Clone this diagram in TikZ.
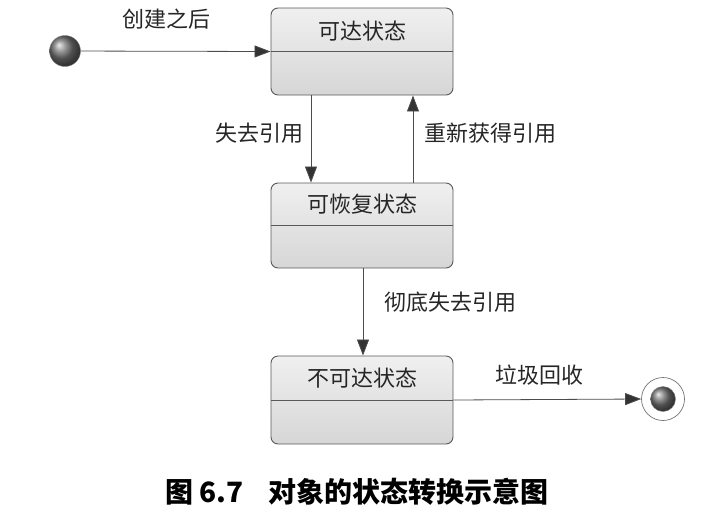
\documentclass[tikz,border=0pt]{standalone}
\usepackage{fontspec}
\newfontfamily\cjk{Noto Sans CJK SC}
\usetikzlibrary{arrows.meta,calc}
\begin{document}
\begin{tikzpicture}[x=1pt,y=-1pt,
  state/.style={draw=black!65,line width=0.9pt,rounded corners=7pt,
    top color=black!6,bottom color=black!16,minimum width=182pt,minimum height=87pt,inner sep=0pt},
  lbl/.style={font=\cjk\fontsize{22}{24}\selectfont,text=black!85,inner sep=0pt},
  arr/.style={draw=black!70,line width=0.8pt,-{Triangle[length=16pt,width=12pt,fill=black!80]}}]
\useasboundingbox (0,0) rectangle (715,512);
% initial
\node[circle,minimum size=31pt,inner sep=0pt,ball color=black!55,draw=black!50] (init) at (65,51) {};
% states
\node[state] (s1) at (362,51.5) {};
\draw[draw=black!65,line width=0.9pt] (s1.west) -- (s1.east);
\node[lbl] (t1) at (362,31) {可达状态};
\node[state,minimum height=85pt] (s2) at (362,225.5) {};
\draw[draw=black!65,line width=0.9pt] (s2.west) -- (s2.east);
\node[lbl] (t2) at (362,204) {可恢复状态};
\node[state,minimum height=88pt] (s3) at (362,400) {};
\draw[draw=black!65,line width=0.9pt] (s3.west) -- (s3.east);
\node[lbl] (t3) at (362,378) {不可达状态};
% final
\node[circle,draw=black!55,line width=0.7pt,fill=white,minimum size=43pt,inner sep=0pt] (fin) at (663,399) {};
\node[circle,minimum size=25pt,inner sep=0pt,ball color=black!55,draw=black!50] (finin) at (fin.center) {};
% arrows
\draw[arr] (init) -- (s1.west);
\draw[arr] (s1.south -| 311,0) -- (s2.north -| 311,0);
\draw[arr] (s2.north -| 413,0) -- (s1.south -| 413,0);
\draw[arr] (s2.south -| 363,0) -- (s3.north -| 363,0);
\draw[arr] (s3.east) -- (fin.west);
% labels
\node[lbl] (l1) at (166,19) {创建之后};
\node[lbl] (l2) at (259,133) {失去引用};
\node[lbl] (l3) at (490,133) {重新获得引用};
\node[lbl] (l4) at (450,302) {彻底失去引用};
\node[lbl] (l5) at (539,375) {垃圾回收};
\node[font=\cjk\bfseries\fontsize{28}{30}\selectfont,inner sep=0pt,anchor=west] (cap) at (165,492) {图 6.7\hspace{0.9em}对象的状态转换示意图};
\end{tikzpicture}
\end{document}
